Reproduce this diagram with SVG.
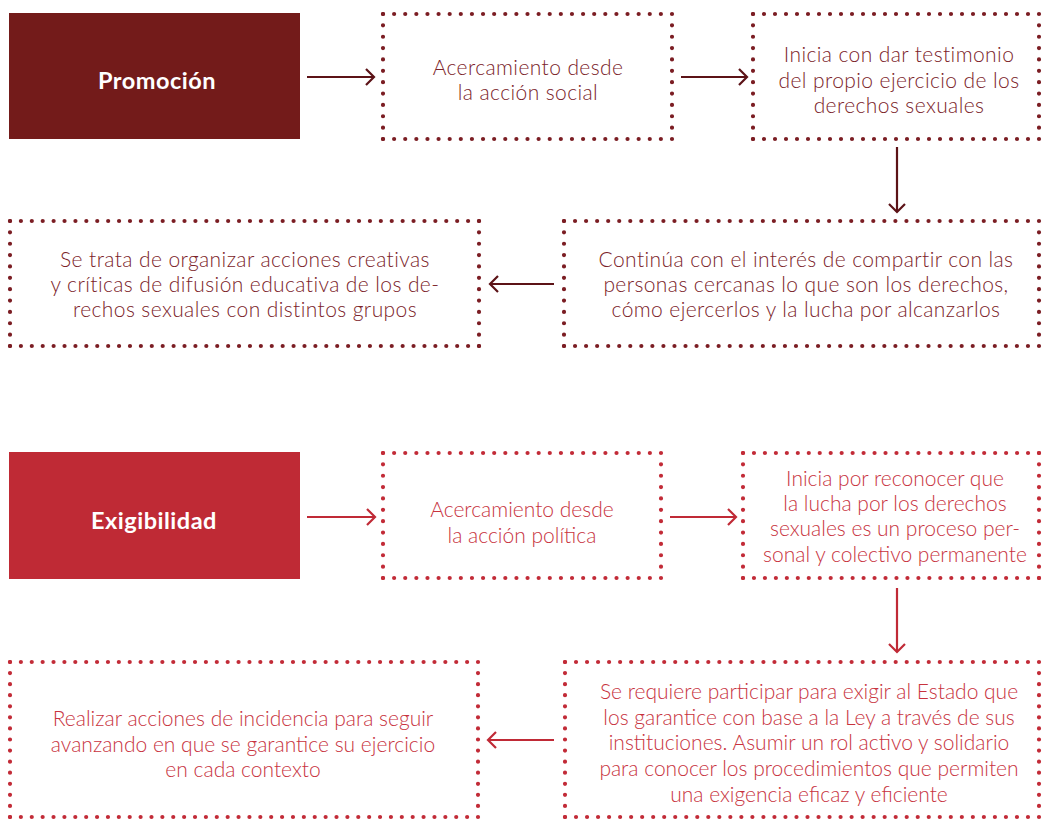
<svg xmlns="http://www.w3.org/2000/svg" width="1042" height="820" viewBox="0 0 1042 820">
<style>
  .dt { fill: none; stroke: #7b1d23; stroke-width: 4.2; stroke-linecap: round; stroke-dasharray: 0 1; }
  .db { fill: none; stroke: #c22b37; stroke-width: 4.2; stroke-linecap: round; stroke-dasharray: 0 1; }
  .tt { font-family: Lato, "Liberation Sans", sans-serif; font-size: 21px; font-weight: 300; letter-spacing: 0.4px; fill: #7b2329; text-anchor: middle; }
  .tb { font-family: Lato, "Liberation Sans", sans-serif; font-size: 21px; font-weight: 300; fill: #c8333e; text-anchor: middle; }
  .hd { font-family: Lato, "Liberation Sans", sans-serif; font-size: 23.5px; font-weight: bold; letter-spacing: 0.5px; fill: #ffffff; text-anchor: middle; }
  .at { fill: none; stroke: #5c1317; stroke-width: 2.2; }
  .ab { fill: none; stroke: #c02a36; stroke-width: 2.2; }
</style>
<defs>
  <marker id="mt" markerWidth="14" markerHeight="20" refX="11" refY="10" orient="auto" markerUnits="userSpaceOnUse">
    <path d="M3 2 L11 10 L3 18" fill="none" stroke="#5c1317" stroke-width="2.2"/>
  </marker>
  <marker id="mb" markerWidth="14" markerHeight="20" refX="11" refY="10" orient="auto" markerUnits="userSpaceOnUse">
    <path d="M3 2 L11 10 L3 18" fill="none" stroke="#c02a36" stroke-width="2.2"/>
  </marker>
</defs>

<!-- Promoción section -->
<g id="promocion">
  <rect x="9" y="13" width="291" height="126" fill="#731b1a"/>
  <text class="hd" x="157" y="89">Promoción</text>
</g>

<g id="accion-social">
  <path class="dt" d="M383 14 H672" pathLength="26"/>
  <path class="dt" d="M383 139 H672" pathLength="26"/>
  <path class="dt" d="M383 14 V139" pathLength="11"/>
  <path class="dt" d="M672 14 V139" pathLength="11"/>
  <text class="tt" x="528" y="75">Acercamiento desde</text>
  <text class="tt" x="528" y="100">la acción social</text>
</g>

<g id="testimonio">
  <path class="dt" d="M753 14 H1039" pathLength="26"/>
  <path class="dt" d="M753 139 H1039" pathLength="26"/>
  <path class="dt" d="M753 14 V139" pathLength="11"/>
  <path class="dt" d="M1039 14 V139" pathLength="11"/>
  <text class="tt" x="899" y="62">Inicia con dar testimonio</text>
  <text class="tt" x="899" y="88">del propio ejercicio de los</text>
  <text class="tt" x="899" y="113">derechos sexuales</text>
</g>

<g id="compartir">
  <path class="dt" d="M564 221 H1039" pathLength="43"/>
  <path class="dt" d="M564 346 H1039" pathLength="43"/>
  <path class="dt" d="M564 221 V346" pathLength="11"/>
  <path class="dt" d="M1039 221 V346" pathLength="11"/>
  <text class="tt" x="806" y="267">Continúa con el interés de compartir con las</text>
  <text class="tt" x="806" y="292">personas cercanas lo que son los derechos,</text>
  <text class="tt" x="806" y="317">cómo ejercerlos y la lucha por alcanzarlos</text>
</g>

<g id="organizar">
  <path class="dt" d="M10 221 H479" pathLength="43"/>
  <path class="dt" d="M10 346 H479" pathLength="43"/>
  <path class="dt" d="M10 221 V346" pathLength="11"/>
  <path class="dt" d="M479 221 V346" pathLength="11"/>
  <text class="tt" x="245" y="267">Se trata de organizar acciones creativas</text>
  <text class="tt" x="245" y="292">y críticas de difusión educativa de los de-</text>
  <text class="tt" x="245" y="317">rechos sexuales con distintos grupos</text>
</g>

<!-- Exigibilidad section -->
<g id="exigibilidad">
  <rect x="9" y="452" width="291" height="127" fill="#bf2a35"/>
  <text class="hd" x="154" y="529">Exigibilidad</text>
</g>

<g id="accion-politica">
  <path class="db" d="M383 453 H661" pathLength="25"/>
  <path class="db" d="M383 578 H661" pathLength="25"/>
  <path class="db" d="M383 453 V578" pathLength="11"/>
  <path class="db" d="M661 453 V578" pathLength="11"/>
  <text class="tb" x="522" y="517">Acercamiento desde</text>
  <text class="tb" x="522" y="543">la acción política</text>
</g>

<g id="reconocer">
  <path class="db" d="M743 453 H1039" pathLength="27"/>
  <path class="db" d="M743 578 H1039" pathLength="27"/>
  <path class="db" d="M743 453 V578" pathLength="11"/>
  <path class="db" d="M1039 453 V578" pathLength="11"/>
  <text class="tb" x="895" y="486">Inicia por reconocer que</text>
  <text class="tb" x="895" y="511">la lucha por los derechos</text>
  <text class="tb" x="895" y="536">sexuales es un proceso per-</text>
  <text class="tb" x="895" y="562">sonal y colectivo permanente</text>
</g>

<g id="exigir">
  <path class="db" d="M565 662 H1039" pathLength="43"/>
  <path class="db" d="M565 817 H1039" pathLength="43"/>
  <path class="db" d="M565 662 V817" pathLength="14"/>
  <path class="db" d="M1039 662 V817" pathLength="14"/>
  <text class="tb" x="809" y="699">Se requiere participar para exigir al Estado que</text>
  <text class="tb" x="809" y="725">los garantice con base a la Ley a través de sus</text>
  <text class="tb" x="809" y="750">instituciones. Asumir un rol activo y solidario</text>
  <text class="tb" x="809" y="776">para conocer los procedimientos que permiten</text>
  <text class="tb" x="809" y="802">una exigencia eficaz y eficiente</text>
</g>

<g id="incidencia">
  <path class="db" d="M10 662 H478" pathLength="43"/>
  <path class="db" d="M10 817 H478" pathLength="43"/>
  <path class="db" d="M10 662 V817" pathLength="14"/>
  <path class="db" d="M478 662 V817" pathLength="14"/>
  <text class="tb" x="243" y="726">Realizar acciones de incidencia para seguir</text>
  <text class="tb" x="243" y="752">avanzando en que se garantice su ejercicio</text>
  <text class="tb" x="243" y="777">en cada contexto</text>
</g>

<g id="connectors">
  <path class="at" d="M307 77 H374" marker-end="url(#mt)"/>
  <path class="at" d="M681 77 H747" marker-end="url(#mt)"/>
  <path class="at" d="M897 147 V212" marker-end="url(#mt)"/>
  <path class="at" d="M554 284 H490" marker-end="url(#mt)"/>
  <path class="ab" d="M307 517 H375" marker-end="url(#mb)"/>
  <path class="ab" d="M670 517 H736" marker-end="url(#mb)"/>
  <path class="ab" d="M897 588 V652" marker-end="url(#mb)"/>
  <path class="ab" d="M554 740 H488" marker-end="url(#mb)"/>
</g>
</svg>
